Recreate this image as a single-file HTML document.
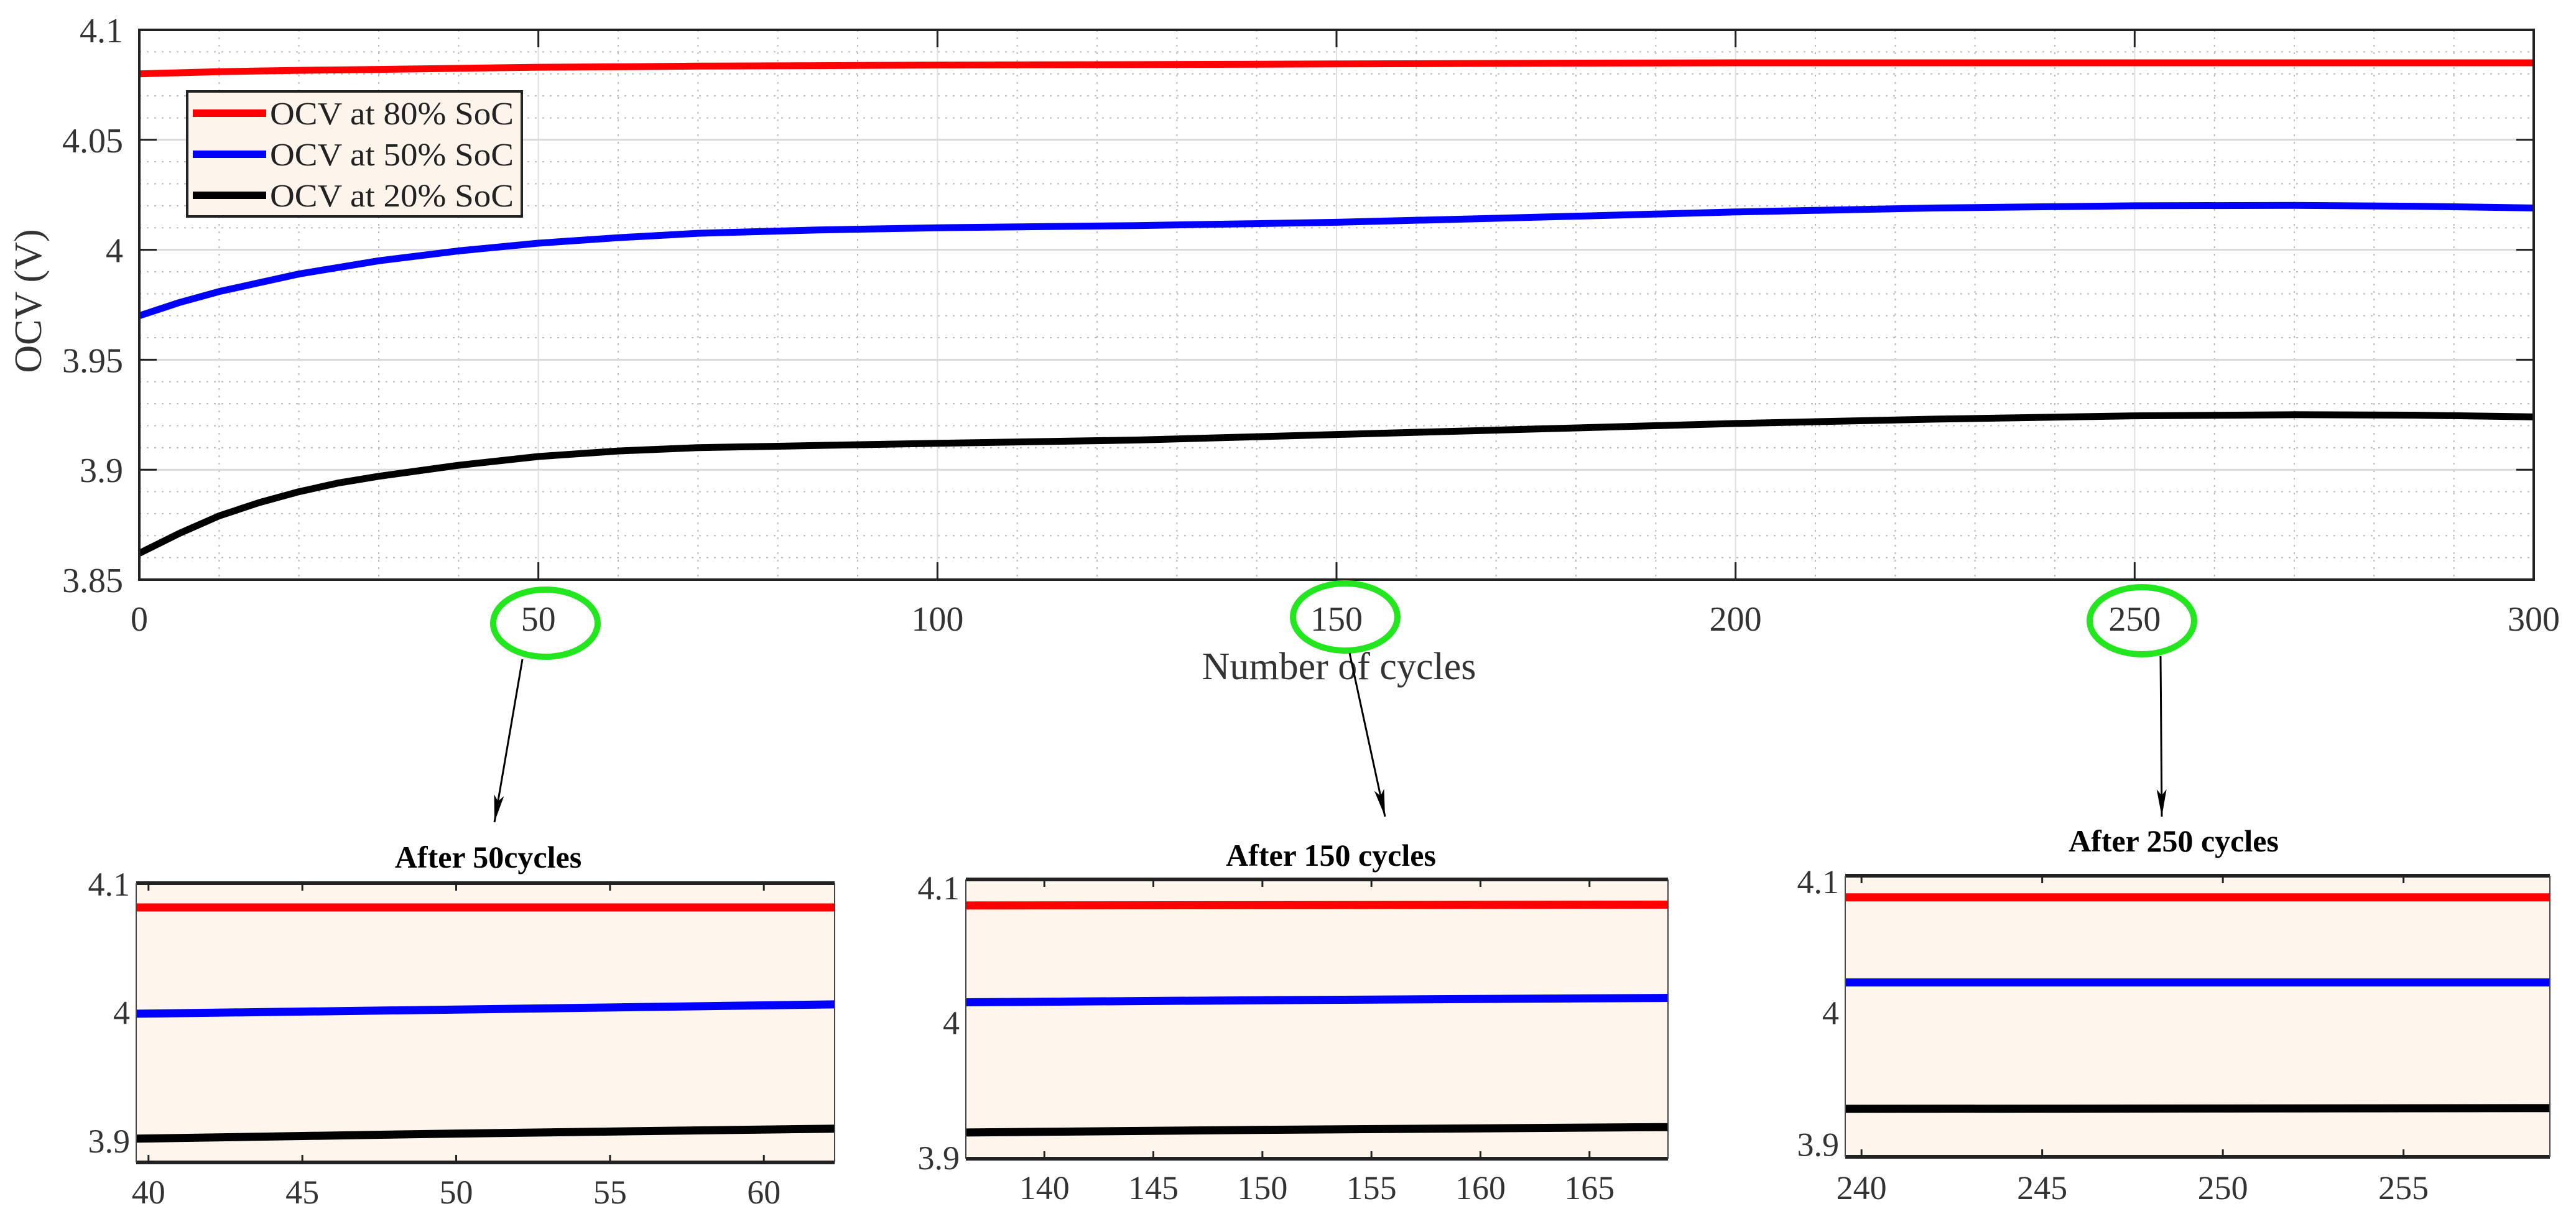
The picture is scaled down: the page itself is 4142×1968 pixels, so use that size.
<!DOCTYPE html>
<html><head><meta charset="utf-8"><style>
html,body{margin:0;padding:0;background:#fff;}
svg{display:block;font-family:"Liberation Serif",serif;}
</style></head><body>
<svg id="chart" width="4142" height="1968" viewBox="0 0 4142 1968" xmlns="http://www.w3.org/2000/svg">
<defs><marker id="arr" viewBox="0 0 44 16" refX="44" refY="8" markerWidth="44" markerHeight="16" markerUnits="userSpaceOnUse" orient="auto"><path d="M0,0 L44,8 L0,16 L10,8 Z" fill="#000"/></marker></defs>
<g id="main"></g>
<g id="insets"></g>
<g id="annot">
<ellipse cx="877" cy="1002" rx="84" ry="54" fill="none" stroke="#22e61e" stroke-width="10"/>
<ellipse cx="2163" cy="992" rx="84" ry="54" fill="none" stroke="#22e61e" stroke-width="10"/>
<ellipse cx="3444" cy="998" rx="84" ry="54" fill="none" stroke="#22e61e" stroke-width="10"/>
<line x1="840" y1="1060" x2="795" y2="1322" stroke="#000" stroke-width="3" marker-end="url(#arr)"/>
<line x1="2170" y1="1050" x2="2227" y2="1313" stroke="#000" stroke-width="3" marker-end="url(#arr)"/>
<line x1="3474" y1="1055" x2="3476" y2="1313" stroke="#000" stroke-width="3" marker-end="url(#arr)"/>
</g>
</svg>
<script>
const NS="http://www.w3.org/2000/svg";
// main chart data
const cycles=[0,5,10,15,20,25,30,40,50,60,70,85,100,125,150,175,200,225,250,270,285,300];
const ocv80=[4.080,4.0805,4.081,4.0813,4.0816,4.0818,4.082,4.0825,4.083,4.0832,4.0835,4.0837,4.084,4.0842,4.0845,4.0848,4.085,4.085,4.085,4.085,4.085,4.085];
const ocv50=[3.970,3.976,3.981,3.985,3.989,3.992,3.995,3.9995,4.003,4.0055,4.0075,4.009,4.010,4.011,4.0125,4.0148,4.0172,4.019,4.020,4.0202,4.0198,4.019];
const ocv20=[3.862,3.871,3.879,3.885,3.890,3.894,3.897,3.902,3.906,3.9085,3.910,3.911,3.912,3.9135,3.916,3.9185,3.921,3.923,3.9245,3.925,3.9248,3.924];
const xTicks=[0,50,100,150,200,250,300];
const yTicks=[3.85,3.9,3.95,4,4.05,4.1];
const yTickLabels=["3.85","3.9","3.95","4","4.05","4.1"];
const legendLabels=["OCV at 80% SoC","OCV at 50% SoC","OCV at 20% SoC"];
const colors=["#ff0000","#0000ff","#000000"];
// inset data
const in1X=[39.6,50,62.3], in1Red=[4.0811,4.0811,4.0811], in1Blue=[3.9983,4.0015,4.0056], in1Black=[3.901,3.905,3.9088];
const in2X=[136.4,150,168.6], in2Red=[4.0862,4.0864,4.0868], in2Blue=[4.0145,4.016,4.0177], in2Black=[3.918,3.920,3.922];
const in3X=[239.55,250,259.05], in3Red=[4.0873,4.0873,4.0873], in3Blue=[4.0225,4.0225,4.0225], in3Black=[3.9263,3.9265,3.9268];
const in1XT=[40,45,50,55,60], in2XT=[140,145,150,155,160,165], in3XT=[240,245,250,255];
const inYT=[3.9,4,4.1], inYTL=["3.9","4","4.1"];

function mk(tag,attrs,parent,text){const e=document.createElementNS(NS,tag);for(const k in attrs)e.setAttribute(k,attrs[k]);if(text!==undefined)e.textContent=text;parent.appendChild(e);return e;}

// main
const M=document.getElementById('main');


const L=224,R=4074,T=48,B=932,x0=0,x1=300,y0=3.85,y1=4.1;
const X=v=>L+(v-x0)/(x1-x0)*(R-L), Y=v=>B-(v-y0)/(y1-y0)*(B-T);
for(let v=10;v<300;v+=10){if(v%50)mk('line',{x1:X(v),x2:X(v),y1:T,y2:B,stroke:'#bbb','stroke-width':2,'stroke-dasharray':'3 9'},M);}
for(let i=1;i<25;i++){const v=3.85+i*0.01;if(i%5)mk('line',{x1:L,x2:R,y1:Y(v),y2:Y(v),stroke:'#bbb','stroke-width':2,'stroke-dasharray':'3 9'},M);}
xTicks.forEach(v=>{const g=mk('line',{x1:X(v),x2:X(v),y1:T,y2:B,stroke:'#e0e0e0','stroke-width':2},M);});
yTicks.forEach(v=>{const g=mk('line',{x1:L,x2:R,y1:Y(v),y2:Y(v),stroke:'#dadada','stroke-width':3},M);});
[[ocv80,'series-ocv-80'],[ocv50,'series-ocv-50'],[ocv20,'series-ocv-20']].forEach((s,i)=>{
 const d=cycles.map((c,j)=>(j?'L':'M')+X(c).toFixed(1)+','+Y(s[0][j]).toFixed(1)).join(' ');
 const p=mk('path',{d:d,fill:'none',stroke:colors[i],'stroke-width':11,'stroke-linejoin':'round'},M);
 
 
});
mk('rect',{x:L,y:T,width:R-L,height:B-T,fill:'none',stroke:'#222','stroke-width':4},M);
xTicks.forEach(v=>{mk('line',{x1:X(v),x2:X(v),y1:B,y2:B-28,stroke:'#222','stroke-width':3},M);mk('line',{x1:X(v),x2:X(v),y1:T,y2:T+28,stroke:'#222','stroke-width':3},M);
 const t=mk('text',{x:X(v),y:1014,'font-size':56,'text-anchor':'middle',fill:'#333'},M,String(v));});
yTicks.forEach((v,i)=>{mk('line',{x1:L,x2:L+28,y1:Y(v),y2:Y(v),stroke:'#222','stroke-width':3},M);mk('line',{x1:R,x2:R-28,y1:Y(v),y2:Y(v),stroke:'#222','stroke-width':3},M);
 const t=mk('text',{x:198,y:Y(v)+20,'font-size':56,'text-anchor':'end',fill:'#333'},M,yTickLabels[i]);});
let t=mk('text',{x:2153,y:1092,'font-size':62,'text-anchor':'middle',fill:'#333'},M,'Number of cycles');
t=mk('text',{x:0,y:0,'font-size':62,'text-anchor':'middle',fill:'#333',transform:'translate(66,484) rotate(-90)'},M,'OCV (V)');
const lg=mk('g',{},M);
mk('rect',{x:301,y:147,width:538,height:201,fill:'#fdf5ec',stroke:'#222','stroke-width':4},lg);
legendLabels.forEach((s,i)=>{const y=182+i*66;
 mk('line',{x1:310,x2:428,y1:y,y2:y,stroke:colors[i],'stroke-width':12},lg);
 const e=mk('text',{x:434,y:y+18,'font-size':52,fill:'#222',textLength:392,lengthAdjust:'spacingAndGlyphs'},lg,s);});

// insets
const I=document.getElementById('insets');
function inset(name,title,L,R,T,B,xa,xb,ya,yb,xs,reds,blues,blacks,xt,titleX,titleY,labY){
 const g=mk('g',{},I);
 const X=v=>L+(v-xa)/(xb-xa)*(R-L),Y=v=>B-(v-ya)/(yb-ya)*(B-T);
 mk('rect',{x:L,y:T,width:R-L,height:B-T,fill:'#fef6ec'},g);
 [reds,blues,blacks].forEach((s,i)=>{const d=xs.map((c,j)=>(j?'L':'M')+X(c).toFixed(1)+','+Y(s[j]).toFixed(1)).join(' ');
  const p=mk('path',{d:d,fill:'none',stroke:colors[i],'stroke-width':13},g);});
 mk('line',{x1:L,x2:R,y1:T,y2:T,stroke:'#222','stroke-width':6},g);
 mk('line',{x1:L,x2:R,y1:B,y2:B,stroke:'#222','stroke-width':6},g);
 mk('line',{x1:L,x2:L,y1:T,y2:B,stroke:'#444','stroke-width':2},g);
 mk('line',{x1:R,x2:R,y1:T,y2:B,stroke:'#444','stroke-width':2},g);
 xt.forEach(v=>{mk('line',{x1:X(v),x2:X(v),y1:T,y2:T+12,stroke:'#222','stroke-width':3},g);mk('line',{x1:X(v),x2:X(v),y1:B,y2:B-12,stroke:'#222','stroke-width':3},g);
  const e=mk('text',{x:X(v),y:labY,'font-size':54,'text-anchor':'middle',fill:'#333'},g,String(v));});
 inYT.forEach((v,i)=>{const e=mk('text',{x:L-10,y:Y(v)+20,'font-size':54,'text-anchor':'end',fill:'#333'},g,inYTL[i]);});
 const e=mk('text',{x:titleX,y:titleY,'font-size':50,'font-weight':'bold','text-anchor':'middle',fill:'#000'},g,title);
}
inset('inset-50-cycles','After 50cycles',219,1342,1420,1869,39.6,62.3,3.8825,4.1,in1X,in1Red,in1Blue,in1Black,in1XT,785,1395,1935);
inset('inset-150-cycles','After 150 cycles',1553,2682,1414,1863,136.4,168.6,3.8986,4.1055,in2X,in2Red,in2Blue,in2Black,in2XT,2140,1392,1928);
inset('inset-250-cycles','After 250 cycles',2967,4100,1408,1860,239.55,259.05,3.8897,4.1038,in3X,in3Red,in3Blue,in3Black,in3XT,3495,1369,1928);
</script>
</body></html>
